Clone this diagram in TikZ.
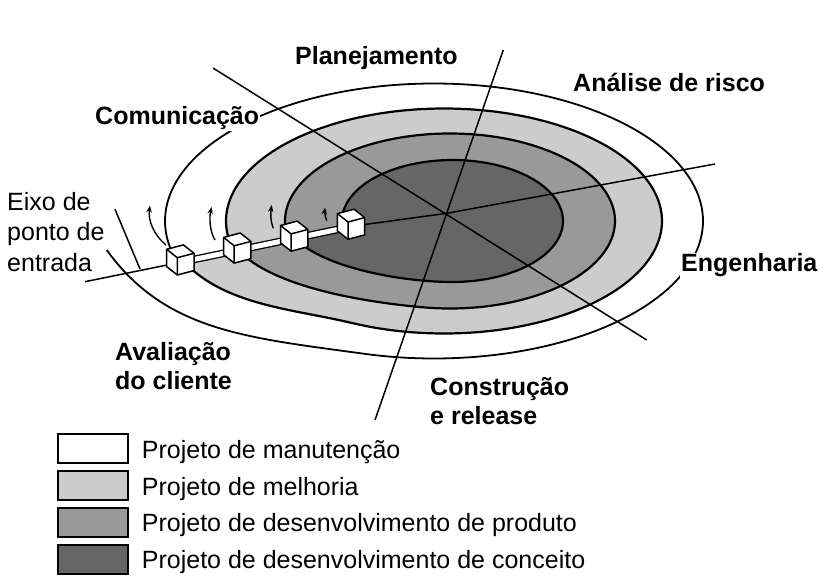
\documentclass[tikz,border=0pt]{standalone}
\usepackage{fontspec}
\setmainfont{Liberation Sans}
\usetikzlibrary{arrows.meta}
\definecolor{lightg}{RGB}{204,204,204}
\definecolor{medg}{RGB}{153,153,153}
\definecolor{darkg}{RGB}{102,102,102}
\tikzset{
  cubeshape/.pic={
    \filldraw[fill=white, line width=1.5pt, line join=round] (-10.6,-8.4) -- (6.1,-12.8) -- (16.7,-4.4) -- (16.7,12.9) -- (0,17.3) -- (-10.6,8.9) -- cycle;
    \draw[line width=1.5pt, line join=round] (-10.6,-8.4) -- (0,0) -- (16.7,-4.4) (0,0) -- (0,17.3);
  }
}
% spiral turns: Bezier lower-left part joined (tangentially) to an elliptic arc
\newcommand\turnzero{(106.7,250) .. controls (165.4,331) and (245.5,337.5) .. (364.4,353.8)
  -- plot[domain=255:553, samples=160, variable=\t] ({434+269*cos(\t)}, {221-137.5*sin(\t)})}
\newcommand\turnone{(185,263) .. controls (227,305.8) and (293.6,309) .. (351.9,323)
  -- plot[domain=245:552, samples=160, variable=\t] ({444+218*cos(\t)}, {221-112.5*sin(\t)})}
\newcommand\turntwo{(242,254) .. controls (279,287.5) and (361.5,301.6) .. (421.3,307.2)
  -- plot[domain=260:550, samples=160, variable=\t] ({450+165*cos(\t)}, {221-87.5*sin(\t)})}
\newcommand\turnthree{(299,242) .. controls (329,268.4) and (402.5,282) .. (452.5,282)
  -- plot[domain=270:552, samples=160, variable=\t] ({452.5+110.5*cos(\t)}, {221-61*sin(\t)})}
\begin{document}
\begin{tikzpicture}[x=1pt,y=-1pt,
  ring/.style={line width=2.2pt, line join=round},
  outring/.style={line width=1.8pt, line join=round},
  axisline/.style={line width=1.5pt},
  lab/.style={font=\fontsize{25}{30}\selectfont\bfseries, inner sep=0pt, anchor=base west},
  labw/.style={lab, fill=white, inner sep=1pt},
  reg/.style={font=\fontsize{25}{30}\selectfont, inner sep=0pt, anchor=base west},
  legbox/.style={draw, line width=2pt, minimum width=70pt, minimum height=29pt, inner sep=0pt},
  turn/.style={line width=1.4pt, -{Stealth[length=7pt,width=5.5pt]}}
]
\useasboundingbox (0,0) rectangle (829,580);

% key points
\coordinate (C) at (446.7,213.3);
\coordinate (Q1) at (183.3,261.7);
\coordinate (Q2) at (240.2,249.8);
\coordinate (Q3) at (297.1,237.9);
\coordinate (Q4) at (354,226);
\coordinate (Lend) at (85,281.7);
\coordinate (Rend) at (715,164);
\coordinate (Atop) at (503.3,50);
\coordinate (Abot) at (375,420);
\coordinate (Btop) at (213,68);
\coordinate (Bbot) at (646.7,340);
\coordinate (Ttop) at (115,209.3);
\coordinate (Tbot) at (140,269);

% filled spiral turns
\fill[lightg] \turnone -- (Q2) -- (Q1) -- cycle;
\fill[medg] \turntwo -- (Q3) -- (Q2) -- cycle;
\fill[darkg] \turnthree -- (Q4) -- (Q3) -- cycle;

% spiral outlines
\draw[outring] \turnzero;
\draw[ring] \turnone;
\draw[ring] \turntwo;
\draw[ring] \turnthree;

% axes
\draw[axisline] (Atop) -- (Abot);
\draw[axisline] (Btop) -- (Bbot);
\draw[axisline] (Lend) -- (Q1);
\draw[axisline] (Q4) -- (C) -- (Rend);
\draw[axisline] (Ttop) -- (Tbot);
\draw[line width=1.3pt, double=white, double distance=5pt] (Q1) -- (Q2) -- (Q3) -- (Q4);

% cubes
\pic (cube1) at (177.3,257.7) {cubeshape};
\pic (cube2) at (234.2,245.8) {cubeshape};
\pic (cube3) at (291.1,233.9) {cubeshape};
\pic (cube4) at (348,222) {cubeshape};

% small arrows
\coordinate (a1s) at (166,245);   \coordinate (a1e) at (150,205.5);
\coordinate (a2s) at (215,240);   \coordinate (a2e) at (211.7,207);
\coordinate (a3s) at (273.3,228.3); \coordinate (a3e) at (271.7,205);
\coordinate (a4s) at (326.7,220.7); \coordinate (a4e) at (325,207.5);
\draw[turn] (a1s) .. controls (153,234) and (148,220) .. (a1e);
\draw[turn] (a2s) .. controls (210,232) and (209,218) .. (a2e);
\draw[turn] (a3s) .. controls (270.5,221) and (270.5,213) .. (a3e);
\draw[turn] (a4s) .. controls (325,216) and (324.6,212) .. (a4e);

% labels
\node[lab] (plan) at (295,65) {Planejamento};
\node[lab] (risco) at (573,92) {Análise de risco};
\node[labw] (comu) at (94,125) {Comunicação};
\node[labw] (eng) at (680,271.7) {Engenharia};
\node[lab] (aval1) at (115,360) {Avaliação};
\node[lab] (aval2) at (115,389) {do cliente};
\node[lab] (cons1) at (430,395) {Construção};
\node[lab] (cons2) at (430,424) {e release};
\node[reg] (eixo1) at (7,210) {Eixo de};
\node[reg] (eixo2) at (7,240) {ponto de};
\node[reg] (eixo3) at (7,271) {entrada};

% legend
\node[legbox, fill=white] (lb1) at (93.3,448) {};
\node[legbox, fill=lightg] (lb2) at (93.3,485) {};
\node[legbox, fill=medg] (lb3) at (93.3,522) {};
\node[legbox, fill=darkg] (lb4) at (93.3,559) {};
\node[reg] (lt1) at (141.7,458.3) {Projeto de manutenção};
\node[reg] (lt2) at (141.7,495) {Projeto de melhoria};
\node[reg] (lt3) at (141.7,531.7) {Projeto de desenvolvimento de produto};
\node[reg] (lt4) at (141.7,568.3) {Projeto de desenvolvimento de conceito};
\end{tikzpicture}
\end{document}
